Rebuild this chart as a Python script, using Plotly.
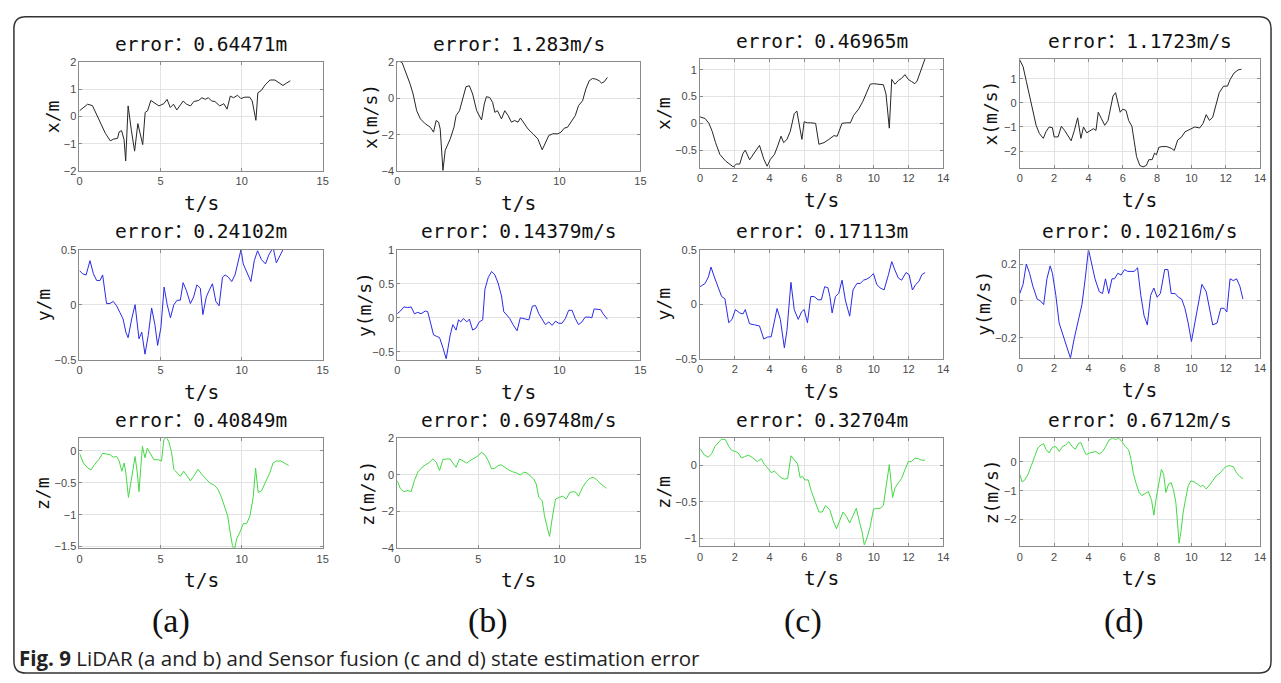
import plotly.graph_objects as go

W, H = 1281, 683

# ---------------- data ----------------
# column (a): LiDAR position
t_a_x = [0,0.5,0.8,1.2,1.6,1.9,2.1,2.35,2.45,2.6,2.75,2.85,3.0,3.2,3.4,3.6,3.9,4.05,4.2,4.4,4.6,4.9,5.2,5.4,5.6,5.8,6.0,6.2,6.4,6.6,6.85,7.05,7.35,7.55,7.75,7.95,8.15,8.35,8.65,8.9,9.1,9.3,9.5,9.75,9.95,10.2,10.5,10.65,10.78,10.88,11.0,11.2,11.45,11.75,12.05,12.35,12.55,12.75,13.0]
v_a_x = [0.21,0.45,0.4,-0.14,-0.62,-0.89,-0.83,-0.8,-0.56,-0.52,-0.85,-1.63,0.39,-0.5,-1.27,-0.26,-1.03,0.15,0.21,0.59,0.51,0.39,0.47,0.63,0.33,0.45,0.24,0.39,0.57,0.45,0.39,0.55,0.59,0.69,0.63,0.69,0.57,0.55,0.39,0.47,0.27,0.75,0.69,0.78,0.66,0.71,0.71,0.57,0.1,-0.14,0.87,0.95,1.16,1.34,1.34,1.22,1.14,1.22,1.31]

t_a_y = [0,0.2,0.41,0.65,0.86,1.06,1.27,1.43,1.67,1.88,2.08,2.29,2.49,2.69,2.86,3.0,3.22,3.43,3.67,3.84,4.04,4.24,4.45,4.65,4.82,5.02,5.22,5.41,5.61,5.82,6.02,6.22,6.39,6.59,6.84,7.04,7.24,7.45,7.61,7.82,8.0,8.2,8.41,8.61,8.82,8.98,9.18,9.39,9.59,9.8,9.96,10.1,10.31,10.57,10.78,10.98,11.22,11.47,11.67,11.94,12.14,12.35,12.55,12.76,12.9]
v_a_y = [0.31,0.28,0.27,0.4,0.28,0.22,0.22,0.27,0.01,0.01,0.03,-0.01,-0.07,-0.13,-0.25,-0.3,-0.13,0.0,-0.31,-0.25,-0.45,-0.28,-0.03,-0.18,-0.37,-0.21,0.16,0,-0.12,0,0.04,0.04,0.2,0.13,0.01,0.07,0.18,0.15,-0.09,0.07,0.13,0.19,0.03,-0.01,0.25,0.27,0.25,0.21,0.27,0.41,0.5,0.37,0.3,0.21,0.4,0.49,0.41,0.37,0.45,0.52,0.38,0.45,0.5,0.51,0.5]

t_a_z = [0,0.24,0.51,0.71,0.92,1.18,1.43,1.67,1.88,2.08,2.29,2.45,2.61,2.76,2.86,3.02,3.22,3.43,3.57,3.67,3.88,4.04,4.18,4.39,4.59,4.86,5.06,5.2,5.35,5.51,5.67,5.82,6.02,6.22,6.43,6.63,6.84,7.04,7.31,7.55,7.8,8.06,8.33,8.53,8.73,8.94,9.14,9.29,9.43,9.55,9.69,9.9,10.1,10.31,10.51,10.71,10.86,11.02,11.22,11.47,11.73,11.94,12.14,12.41,12.65,12.9]
v_a_z = [-0.04,-0.19,-0.27,-0.3,-0.22,-0.14,-0.04,-0.05,-0.06,-0.1,-0.09,-0.16,-0.32,-0.19,-0.35,-0.73,-0.4,-0.09,-0.35,-0.64,0.07,-0.11,0.04,-0.06,-0.14,-0.14,-0.16,0.17,0.22,0.14,-0.01,-0.29,-0.35,-0.4,-0.32,-0.4,-0.47,-0.4,-0.29,-0.37,-0.44,-0.51,-0.54,-0.6,-0.71,-0.86,-1.02,-1.27,-1.48,-1.56,-1.38,-1.27,-1.14,-1.14,-1.02,-0.73,-0.27,-0.65,-0.63,-0.49,-0.35,-0.19,-0.16,-0.16,-0.19,-0.23]

# column (b): LiDAR velocity
t_b_x = [0,0.1,0.3,0.5,0.8,0.98,1.2,1.43,1.73,2.04,2.24,2.4,2.55,2.65,2.82,2.96,3.27,3.5,3.63,3.84,4.04,4.24,4.45,4.65,4.9,5.2,5.37,5.5,5.7,5.88,6.02,6.18,6.43,6.63,6.84,7.04,7.24,7.45,7.6,7.76,8.06,8.37,8.67,8.94,9.08,9.35,9.59,9.9,10.1,10.3,10.5,10.71,10.98,11.18,11.43,11.63,11.84,12.04,12.24,12.45,12.6,12.76,12.96]
v_b_x = [2.0,2.06,1.97,1.51,0.78,0.24,-0.68,-1.13,-1.4,-1.59,-1.86,-1.22,-1.31,-1.68,-3.96,-2.86,-2.23,-1.59,-0.95,-0.68,0.05,0.64,0.69,0.24,-0.68,-1.19,-0.31,0.09,0.05,-0.22,-0.77,-0.68,-1.13,-0.68,-0.95,-1.31,-1.22,-1.31,-1.08,-1.31,-1.68,-1.95,-2.23,-2.83,-2.59,-2.04,-1.95,-1.95,-1.86,-1.64,-1.59,-1.31,-0.95,-0.4,-0.13,0.51,0.97,1.09,1.06,0.97,0.84,0.91,1.15]

t_b_y = [0,0.2,0.41,0.65,0.86,1.06,1.27,1.47,1.73,1.88,2.04,2.24,2.41,2.61,2.82,3.02,3.27,3.43,3.63,3.78,3.92,4.08,4.29,4.45,4.65,4.86,5.06,5.27,5.41,5.61,5.82,6.02,6.22,6.43,6.57,6.73,6.94,7.14,7.39,7.59,7.86,8.12,8.33,8.53,8.73,8.94,9.14,9.35,9.55,9.76,9.96,10.16,10.37,10.57,10.78,10.98,11.18,11.39,11.59,11.84,12.0,12.14,12.35,12.55,12.69,12.96]
v_b_y = [0.06,0.1,0.16,0.15,0.16,0.06,0.08,0.06,0.1,0.09,-0.06,-0.25,-0.27,-0.29,-0.44,-0.6,-0.25,-0.1,-0.18,-0.03,-0.06,-0.01,-0.06,-0.02,-0.18,-0.15,-0.06,-0.03,0.42,0.59,0.68,0.63,0.51,0.32,0.09,0.04,-0.01,-0.1,-0.19,0,-0.02,-0.03,0.17,0.18,0.06,-0.03,-0.1,-0.06,-0.11,-0.05,-0.08,-0.08,-0.01,0.11,0.11,-0.01,-0.1,-0.06,0.01,0.01,0,0.13,0.13,0.12,0.06,-0.02]

t_b_z = [0,0.2,0.41,0.65,0.86,1.06,1.27,1.47,1.73,1.94,2.2,2.41,2.61,2.82,3.02,3.27,3.43,3.63,3.84,4.04,4.29,4.49,4.73,5.0,5.2,5.41,5.61,5.82,6.02,6.22,6.43,6.63,6.84,7.1,7.35,7.59,7.8,8.0,8.2,8.41,8.57,8.73,8.94,9.08,9.22,9.39,9.55,9.76,10.0,10.2,10.41,10.65,10.86,11.02,11.18,11.43,11.67,11.88,12.08,12.29,12.49,12.69,12.9]
v_b_z = [-0.31,-0.76,-0.91,-0.85,-0.91,-0.31,0.15,0.36,0.55,0.65,0.87,0.69,0.24,0.84,0.87,0.87,0.65,0.42,0.87,0.78,0.65,0.78,0.91,1.05,1.24,1.09,0.78,0.33,0.36,0.51,0.55,0.42,0.29,0.18,0.11,0,0.15,0.11,-0.04,-0.22,-0.49,-1.22,-1.4,-2.22,-2.76,-3.35,-2.4,-1.31,-1.22,-1.16,-1.31,-0.95,-0.91,-0.95,-1.16,-0.67,-0.36,-0.18,-0.13,-0.25,-0.44,-0.58,-0.73]

# column (c): sensor fusion position
t_c_x = [0,0.29,0.51,0.7,0.89,1.14,1.46,1.71,1.9,2.09,2.28,2.47,2.6,2.85,3.14,3.42,3.67,3.86,4.05,4.28,4.47,4.66,4.81,5.0,5.19,5.42,5.57,5.7,5.86,5.99,6.18,6.37,6.65,6.84,7.13,7.41,7.7,7.89,8.04,8.17,8.42,8.65,8.84,9.13,9.37,9.6,9.79,9.98,10.27,10.55,10.7,10.89,11.03,11.22,11.41,11.6,11.79,11.98,12.17,12.36,12.49,12.68,12.84,12.95]
v_c_x = [0.12,0.09,0,-0.15,-0.36,-0.58,-0.7,-0.76,-0.81,-0.76,-0.76,-0.56,-0.5,-0.68,-0.55,-0.41,-0.67,-0.8,-0.67,-0.58,-0.42,-0.24,-0.36,-0.3,-0.15,0.18,0.23,0,-0.3,0.03,0.01,0.01,0,-0.39,-0.36,-0.3,-0.23,-0.24,-0.12,0,0.01,0.01,0.15,0.27,0.41,0.58,0.73,0.74,0.73,0.72,0.55,-0.09,0.82,0.73,0.8,0.84,0.91,0.82,0.78,0.74,0.79,0.97,1.15,1.21]

t_c_y = [0,0.29,0.48,0.63,0.82,1.05,1.24,1.43,1.65,1.84,2.03,2.28,2.47,2.6,2.85,3.14,3.42,3.67,3.9,4.09,4.28,4.43,4.62,4.85,5.0,5.23,5.42,5.65,5.84,5.99,6.18,6.37,6.56,6.79,6.98,7.17,7.36,7.47,7.6,7.79,7.98,8.17,8.37,8.61,8.8,9.03,9.22,9.41,9.6,9.79,9.98,10.17,10.36,10.59,10.84,11.03,11.22,11.41,11.6,11.85,12.03,12.22,12.41,12.6,12.76,12.95]
v_c_y = [0.16,0.19,0.25,0.34,0.25,0.15,0.07,0.05,-0.17,-0.14,-0.05,-0.08,-0.09,-0.05,-0.18,-0.19,-0.2,-0.32,-0.3,-0.3,-0.17,-0.04,-0.14,-0.4,-0.24,0.2,-0.05,-0.14,-0.07,-0.05,-0.17,0.07,0.07,0.04,0.04,0.16,0.15,0.07,-0.08,0.07,0.1,0.22,0.03,-0.11,0.13,0.19,0.19,0.22,0.23,0.25,0.28,0.18,0.15,0.13,0.27,0.39,0.31,0.24,0.22,0.29,0.27,0.13,0.18,0.21,0.27,0.29]

t_c_z = [0,0.25,0.48,0.67,0.86,1.05,1.24,1.46,1.65,1.84,2.03,2.19,2.38,2.57,2.79,3.04,3.29,3.52,3.71,3.9,4.09,4.28,4.47,4.66,4.85,5.04,5.23,5.42,5.61,5.76,5.89,6.03,6.22,6.41,6.65,6.84,7.03,7.22,7.47,7.66,7.85,8.04,8.23,8.42,8.61,8.8,8.99,9.18,9.32,9.45,9.6,9.79,9.98,10.17,10.36,10.55,10.7,10.89,11.08,11.22,11.41,11.6,11.79,11.98,12.17,12.36,12.55,12.74,12.95]
v_c_z = [0.23,0.14,0.11,0.16,0.26,0.31,0.36,0.35,0.26,0.2,0.19,0.17,0.1,0.12,0.14,0.1,0.05,0.09,0.01,-0.04,-0.1,-0.08,-0.13,-0.17,-0.19,-0.18,0.13,0.08,0.02,-0.17,-0.15,-0.2,-0.2,-0.36,-0.51,-0.64,-0.64,-0.55,-0.61,-0.76,-0.87,-0.76,-0.64,-0.7,-0.79,-0.69,-0.59,-0.78,-0.91,-1.09,-1.0,-0.84,-0.6,-0.59,-0.59,-0.55,-0.28,0.01,-0.44,-0.31,-0.24,-0.18,-0.06,0.05,0.05,0.1,0.09,0.07,0.07]

# column (d): sensor fusion velocity
t_d_x = [0,0.19,0.38,0.57,0.76,0.95,1.14,1.37,1.52,1.71,1.9,2.0,2.23,2.42,2.61,2.8,2.99,3.18,3.37,3.56,3.71,3.9,4.1,4.29,4.44,4.57,4.76,4.95,5.14,5.3,5.43,5.58,5.71,5.85,6.0,6.19,6.34,6.53,6.67,6.8,6.99,7.18,7.37,7.52,7.71,7.85,7.96,8.1,8.29,8.57,8.82,9.0,9.2,9.43,9.62,9.9,10.19,10.48,10.67,10.86,11.05,11.24,11.43,11.62,11.87,12.1,12.25,12.48,12.72,12.91]
v_d_x = [1.77,1.5,0.89,0.28,-0.32,-0.93,-1.27,-1.47,-1.2,-1.0,-1.03,-1.41,-1.41,-0.97,-1.14,-1.38,-1.57,-1.14,-0.62,-1.47,-1.0,-1.24,-1.14,-1.07,-1.14,-0.39,-0.66,-0.93,-0.73,-0.19,0.28,0.42,0.08,-0.39,-0.26,-0.32,-0.73,-0.97,-1.61,-2.22,-2.59,-2.65,-2.59,-2.35,-2.35,-2.08,-2.15,-1.84,-1.81,-1.81,-1.88,-1.97,-1.54,-1.41,-1.2,-1.11,-1.0,-1.04,-0.86,-0.49,-0.73,-0.59,-0.05,0.42,0.69,0.69,0.96,1.23,1.36,1.39]

t_d_y = [0,0.19,0.38,0.57,0.76,1.01,1.2,1.39,1.58,1.77,1.9,2.1,2.29,2.53,2.76,2.95,3.18,3.43,3.62,3.81,4.0,4.19,4.38,4.63,4.82,4.99,5.18,5.37,5.52,5.71,5.9,6.1,6.29,6.48,6.67,6.86,7.05,7.24,7.43,7.62,7.81,8.0,8.19,8.44,8.63,8.82,9.05,9.24,9.43,9.62,9.81,10.0,10.19,10.42,10.61,10.86,11.05,11.24,11.49,11.71,11.9,12.06,12.25,12.44,12.63,12.82,13.0]
v_d_y = [0.04,0.09,0.2,0.15,0.08,0.01,0,-0.02,0.12,0.19,0.15,0.03,-0.12,-0.19,-0.25,-0.31,-0.2,-0.1,-0.02,0.12,0.28,0.2,0.12,0.05,0.04,0.12,0.04,0.12,0.12,0.15,0.14,0.17,0.16,0.16,0.16,0.18,0.03,-0.08,-0.13,0.03,0.07,0.02,0.04,0.17,0.17,0.04,0.04,0.02,0.01,-0.04,-0.12,-0.22,-0.12,0,0.09,0.05,-0.05,-0.13,-0.12,-0.04,-0.04,-0.06,0.12,0.11,0.12,0.08,0.01]

t_d_z = [0,0.13,0.29,0.48,0.67,0.86,1.05,1.24,1.39,1.52,1.71,1.9,2.1,2.29,2.48,2.67,2.86,3.05,3.24,3.43,3.56,3.71,3.87,4.06,4.25,4.44,4.63,4.82,5.0,5.2,5.39,5.58,5.77,5.96,6.15,6.34,6.48,6.61,6.76,6.95,7.1,7.3,7.49,7.68,7.81,7.94,8.1,8.25,8.38,8.51,8.67,8.82,8.95,9.09,9.2,9.28,9.39,9.52,9.66,9.81,9.96,10.15,10.34,10.53,10.67,10.86,11.05,11.24,11.43,11.68,11.87,12.06,12.25,12.44,12.63,12.82,13.0]
v_d_z = [-0.43,-0.69,-0.63,-0.43,-0.13,0.19,0.48,0.59,0.63,0.44,0.31,0.51,0.53,0.36,0.53,0.59,0.7,0.53,0.44,0.65,0.67,0.44,0.25,0.31,0.33,0.36,0.27,0.36,0.53,0.76,0.82,0.78,0.82,0.7,0.53,0.42,0.08,-0.38,-0.72,-1.06,-1.17,-1.11,-1.03,-1.34,-1.85,-1.28,-0.72,-0.26,-0.43,-1.06,-0.77,-0.72,-0.97,-1.4,-2.19,-2.82,-2.42,-1.74,-1.28,-0.83,-0.66,-0.69,-0.77,-0.85,-0.81,-0.94,-0.81,-0.63,-0.49,-0.38,-0.24,-0.15,-0.13,-0.17,-0.38,-0.51,-0.58]

# titles / labels
titles = [
    ["error：0.64471m", "error：1.283m/s", "error：0.46965m", "error：1.1723m/s"],
    ["error：0.24102m", "error：0.14379m/s", "error：0.17113m", "error：0.10216m/s"],
    ["error：0.40849m", "error：0.69748m/s", "error：0.32704m", "error：0.6712m/s"],
]
ylabels = [
    ["x/m", "x(m/s)", "x/m", "x(m/s)"],
    ["y/m", "y(m/s)", "y/m", "y(m/s)"],
    ["z/m", "z(m/s)", "z/m", "z(m/s)"],
]
xlabel = "t/s"
panel_tags = ["(a)", "(b)", "(c)", "(d)"]
caption_bold = "Fig. 9"
caption_text = " LiDAR (a and b) and Sensor fusion (c and d) state estimation error"

series = [
    [(t_a_x, v_a_x), (t_b_x, v_b_x), (t_c_x, v_c_x), (t_d_x, v_d_x)],
    [(t_a_y, v_a_y), (t_b_y, v_b_y), (t_c_y, v_c_y), (t_d_y, v_d_y)],
    [(t_a_z, v_a_z), (t_b_z, v_b_z), (t_c_z, v_c_z), (t_d_z, v_d_z)],
]

# axis ranges / ticks
x_ranges = [[0, 15], [0, 15], [0, 14], [0, 14]]
x_dticks = [5, 5, 2, 2]
y_ranges = [
    [[-2, 2], [-4, 2], [-0.835, 1.2], [-2.7, 1.81]],
    [[-0.5, 0.5], [-0.614, 1], [-0.5, 0.5], [-0.308, 0.278]],
    [[-1.526, 0.196], [-4, 2], [-1.11, 0.37], [-2.93, 0.82]],
]
y_dticks = [
    [1, 2, 0.5, 1],
    [0.5, 0.5, 0.5, 0.2],
    [0.5, 2, 0.5, 1],
]

# ---------------- layout (pixels) ----------------
col_px = [(77, 322), (397, 642), (702, 947), (1024, 1266)]
row_px = [
    [(57, 168), (57, 168), (54, 165), (54, 165)],
    [(248, 360), (248, 360), (248, 359), (248, 358)],
    [(440, 552), (440, 552), (440, 550), (440, 550)],
]
ylab_off = [
    [27, 27, 37, 29],
    [36, 33, 37, 36],
    [37, 30, 37, 29],
]
line_colors = ["#262626", "#2a2ae8", "#45d845"]
tag_x = [169, 488, 806, 1129]

def fx(px):
    return px / W

def fy(py):
    return 1 - py / H

TITLE_FONT = dict(family="DejaVu Sans Mono, Noto Sans CJK SC", size=19.5, color="#111111")
LABEL_FONT = dict(family="DejaVu Sans Mono, Noto Sans CJK SC", size=19.5, color="#111111")
YLABEL_FONT = dict(family="DejaVu Sans Mono, Noto Sans CJK SC", size=18, color="#111111")
TICK_FONT = dict(family="Liberation Sans, Arial", size=11, color="#4a4a4a")

fig = go.Figure()
layout = {}
annotations = []
n = 0
for r in range(3):
    for c in range(4):
        n += 1
        xs = "" if n == 1 else str(n)
        t, v = series[r][c]
        fig.add_trace(go.Scatter(
            x=t, y=v, mode="lines",
            line=dict(color=line_colors[r], width=1),
            xaxis="x" + xs, yaxis="y" + xs, showlegend=False,
            hoverinfo="x+y",
        ))
        left, right = col_px[c]
        top, bottom = row_px[r][c]
        common = dict(
            showgrid=True, gridcolor="#e3e3e3", gridwidth=1,
            showline=True, linecolor="#8a8a8a", linewidth=1, mirror="ticks",
            ticks="inside", ticklen=3, tickcolor="#8a8a8a",
            tickfont=TICK_FONT, zeroline=False, fixedrange=True,
        )
        layout["xaxis" + xs] = dict(
            common, domain=[fx(left), fx(right)], anchor="y" + xs,
            range=x_ranges[c], tick0=0, dtick=x_dticks[c],
        )
        layout["yaxis" + xs] = dict(
            common, domain=[fy(bottom), fy(top)], anchor="x" + xs,
            range=y_ranges[r][c], tick0=0, dtick=y_dticks[r][c],
        )
        cx = (left + right) / 2
        annotations.append(dict(
            text=titles[r][c], x=fx(cx), y=fy(top - 18), xref="paper", yref="paper",
            xanchor="center", yanchor="middle", showarrow=False, font=TITLE_FONT,
        ))
        annotations.append(dict(
            text=xlabel, x=fx(cx), y=fy(bottom + 33), xref="paper", yref="paper",
            xanchor="center", yanchor="middle", showarrow=False, font=LABEL_FONT,
        ))
        annotations.append(dict(
            text=ylabels[r][c], x=fx(left - ylab_off[r][c]), y=fy((top + bottom) / 2),
            xref="paper", yref="paper", xanchor="center", yanchor="middle",
            textangle=-90, showarrow=False, font=YLABEL_FONT,
        ))

for i, tag in enumerate(panel_tags):
    annotations.append(dict(
        text=tag, x=fx(tag_x[i]), y=fy(626), xref="paper", yref="paper",
        xanchor="center", yanchor="middle", showarrow=False,
        font=dict(family="Liberation Serif, Times New Roman", size=34, color="#111111"),
    ))

annotations.append(dict(
    text="<b>" + caption_bold + "</b>" + caption_text, x=fx(14), y=fy(664),
    xref="paper", yref="paper", xanchor="left", yanchor="middle", showarrow=False,
    font=dict(family="Open Sans, Noto Sans", size=20.5, color="#222222"),
))

# rounded outer frame
L, T, R, B, rad = 11, 11, 1277, 679, 12
def P(px, py):
    return f"{fx(px):.5f},{fy(py):.5f}"
frame_path = (
    f"M {P(L + rad, T)} L {P(R - rad, T)} Q {P(R, T)} {P(R, T + rad)} "
    f"L {P(R, B - rad)} Q {P(R, B)} {P(R - rad, B)} "
    f"L {P(L + rad, B)} Q {P(L, B)} {P(L, B - rad)} "
    f"L {P(L, T + rad)} Q {P(L, T)} {P(L + rad, T)} Z"
)

fig.update_layout(
    width=W, height=H, autosize=False,
    margin=dict(l=0, r=0, t=0, b=0),
    paper_bgcolor="white", plot_bgcolor="white",
    annotations=annotations,
    shapes=[dict(type="path", path=frame_path, xref="paper", yref="paper",
                 line=dict(color="#333333", width=1.5), layer="below")],
    **layout,
)

fig.write_html(
    "out.html",
    config={"displayModeBar": False},
    post_script="document.body.style.margin='0px';document.body.style.overflow='hidden';",
)
